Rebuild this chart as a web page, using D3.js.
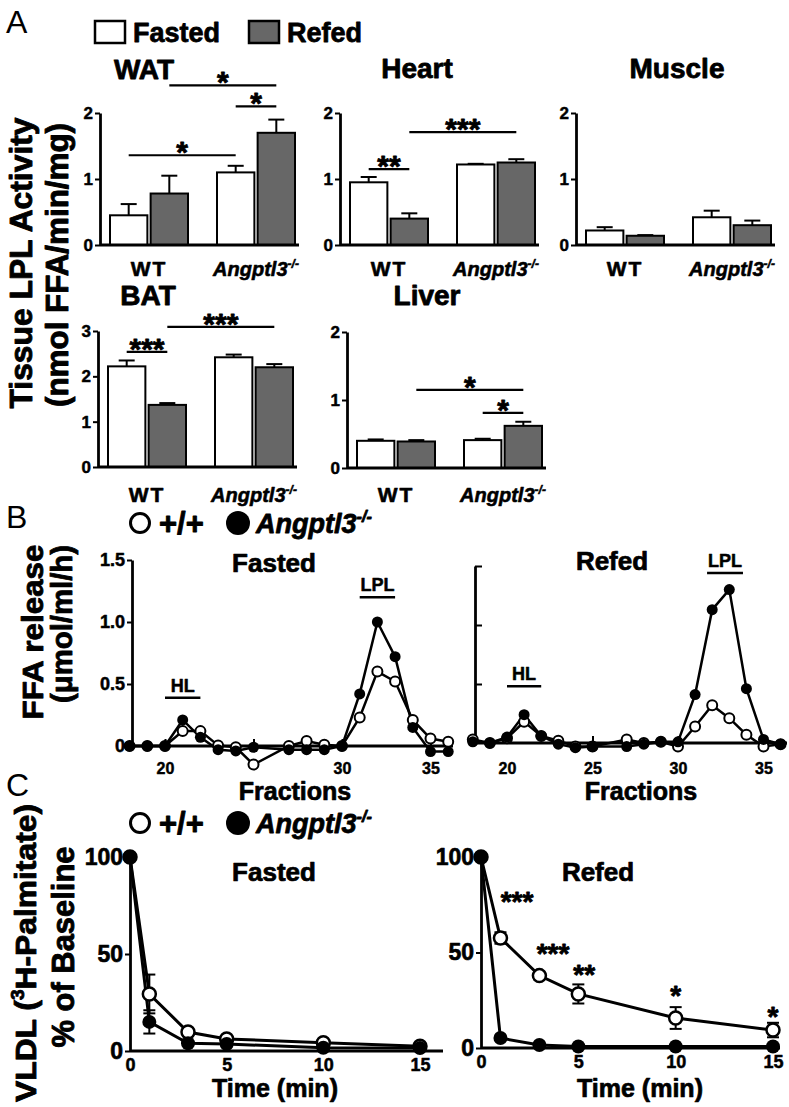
<!DOCTYPE html>
<html><head><meta charset="utf-8">
<script src="https://cdn.jsdelivr.net/npm/d3@7"></script>
<style>body{margin:0;background:#fff} svg{display:block}</style>
</head><body>
<svg id="fig" width="789" height="1107"></svg>
<script>
// ---------------- DATA ----------------
// Panel A: tissue LPL activity (order: WT-Fasted, WT-Refed, KO-Fasted, KO-Refed)
const genotypes = ["WT", "Angptl3"];
const conditions = ["Fasted", "Refed"];
const watMean = [0.45, 0.78, 1.10, 1.70];
const watErr = [0.17, 0.27, 0.10, 0.20];
const heartMean = [0.95, 0.40, 1.22, 1.25];
const heartErr = [0.08, 0.08, 0.01, 0.05];
const muscleMean = [0.22, 0.14, 0.42, 0.30];
const muscleErr = [0.05, 0.01, 0.10, 0.07];
const batMean = [2.22, 1.37, 2.42, 2.20];
const batErr = [0.13, 0.04, 0.06, 0.07];
const liverMean = [0.40, 0.39, 0.41, 0.62];
const liverErr = [0.02, 0.02, 0.02, 0.06];
// significance brackets: [barFrom, barTo, level, label]
const watSig = [[0, 2, 1.36, "*"], [2, 3, 2.10, "*"], [1, 3, 2.42, "*"]];
const heartSig = [[0, 1, 1.15, "**"], [1, 3, 1.71, "***"]];
const muscleSig = [];
const batSig = [[0, 1, 2.54, "***"], [1, 3, 3.09, "***"]];
const liverSig = [[1, 3, 1.15, "*"], [2, 3, 0.81, "*"]];

// Panel B: FFA release by fraction
const fractions = [18, 19, 20, 21, 22, 23, 24, 25, 27, 28, 29, 30, 31, 32, 33, 34, 35, 36];
const fastedWT = [0, 0, 0, 0.12, 0.12, 0.005, -0.01, -0.15, 0, 0.04, 0.01, 0, 0.23, 0.60, 0.52, 0.21, 0.06, 0.035];
const fastedKO = [0, 0, 0, 0.21, 0.07, -0.03, -0.04, -0.01, -0.03, -0.03, -0.03, 0, 0.42, 1.00, 0.72, 0.15, -0.045, -0.045];
const refedWT = [0.03, 0, 0.04, 0.18, 0.06, 0.02, -0.03, -0.03, 0.03, 0, 0.01, -0.03, 0.14, 0.32, 0.21, 0.07, -0.03, -0.01];
const refedKO = [0.01, 0, 0.05, 0.24, 0.06, -0.01, -0.04, -0.03, -0.03, -0.01, 0.01, 0.01, 0.41, 1.13, 1.30, 0.46, 0.03, -0.01];
const ffaTicks = [0, 0.5, 1.0, 1.5];
const fastedHL = [20, 22], fastedLPL = [31, 33];
const refedHL = [20, 22], refedLPL = [31.7, 33.8];

// Panel C: VLDL 3H-palmitate clearance
const times = [0, 1, 3, 5, 10, 15];
const cFastedWT = [100, 29.4, 9.8, 6.2, 4.3, 2.5];
const cFastedWTErr = [0, 10, 2, 1, 1, 1];
const cFastedKO = [100, 15, 4, 3.6, 1.7, 1.5];
const cFastedKOErr = [0, 6, 1, 0.8, 0.5, 0.5];
const cRefedWT = [100, 57.6, 37.9, 28.3, 15.7, 9.4];
const cRefedWTErr = [0, 3, 2, 5, 5.7, 3.8];
const cRefedKO = [100, 5.2, 1.6, 0.8, 0.8, 0.8];
const cRefedKOErr = [0, 0.5, 0.3, 0.2, 0.2, 0.2];
const refedStars = ["***", "***", "**", "*", "*"];
const refedStarTime = [1.85, 3.7, 5.3, 10, 15];
const refedStarLevel = [80, 53, 42, 31, 20];
const timeTicks = [0, 5, 10, 15];
const pctTicks = [0, 50, 100];

// ---------------- DRAWING ----------------
const FONT = "'Liberation Sans', Arial, Helvetica, sans-serif";
const GRAY = "#676767";
const svg = d3.select("#fig");

function heavy(t, size) {
  return t.attr("stroke", "#000").attr("stroke-width", Math.max(0.3, size * 0.028)).attr("stroke-linejoin", "round");
}
function txt(x, y, s, size, o = {}) {
  const t = svg.append("text").attr("x", x).attr("y", y)
    .attr("font-family", FONT).attr("font-size", size)
    .attr("font-weight", o.weight || "bold")
    .attr("text-anchor", o.anchor || "middle").attr("fill", "#000").text(s);
  if (o.italic) t.attr("font-style", "italic");
  if (o.ls) t.attr("letter-spacing", o.ls);
  if (!o.weight) heavy(t, size);
  return t;
}
function angLabel(x, y, size, anchor) {
  const t = svg.append("text").attr("x", x).attr("y", y)
    .attr("font-family", FONT).attr("font-size", size).attr("font-weight", "bold")
    .attr("font-style", "italic").attr("text-anchor", anchor);
  heavy(t, size);
  t.append("tspan").text("Angptl3");
  t.append("tspan").attr("font-size", size * 0.6).attr("dy", -size * 0.42).text("-/-");
  return t;
}
function vtext(x, y, parts, size, len) {
  const t = svg.append("text").attr("transform", `translate(${x},${y}) rotate(-90)`)
    .attr("font-family", FONT).attr("font-size", size).attr("font-weight", "bold")
    .attr("text-anchor", "middle");
  heavy(t, size);
  parts.forEach(p => {
    const s = t.append("tspan").text(p.t);
    if (p.sup) s.attr("font-size", size * 0.6).attr("dy", -size * 0.4);
    if (p.back) s.attr("dy", size * 0.4);
  });
  if (len) t.attr("textLength", len).attr("lengthAdjust", "spacingAndGlyphs");
  return t;
}
function styleAxis(a, size) {
  const t = a.selectAll("text").attr("font-family", FONT).attr("font-size", size).attr("font-weight", "bold").attr("fill", "#000");
  heavy(t, size);
  a.selectAll(".tick line").attr("stroke", "#000").attr("stroke-width", 2);
  a.select(".domain").attr("stroke", "#000").attr("stroke-width", 2.8);
}

// Panel letters
txt(6, 33, "A", 32, {weight: "normal", anchor: "start"});
txt(6, 528, "B", 32, {weight: "normal", anchor: "start"});
txt(6, 796, "C", 32, {weight: "normal", anchor: "start"});

// Legend A
svg.append("rect").attr("x", 95).attr("y", 21).attr("width", 30).attr("height", 22).attr("fill", "#fff").attr("stroke", "#000").attr("stroke-width", 2.5);
txt(133, 42, "Fasted", 27, {anchor: "start"});
svg.append("rect").attr("x", 249).attr("y", 21).attr("width", 30).attr("height", 22).attr("fill", GRAY).attr("stroke", "#000").attr("stroke-width", 2.5);
txt(287, 42, "Refed", 27, {anchor: "start"});

// Y titles
vtext(32, 263, [{t: "Tissue LPL Activity"}], 31, 291);
vtext(68, 265, [{t: "(nmol FFA/min/mg)"}], 31, 284);

function barChart(cfg) {
  const g = svg.append("g");
  const y = d3.scaleLinear().domain([0, cfg.ymax]).range([cfg.y0, cfg.ytop]);
  const gx = d3.scalePoint().domain(genotypes).range([cfg.x0 + 49, cfg.x0 + 156]);
  const cx = d3.scaleBand().domain(conditions).range([-39, 39]).paddingInner(0.08);
  const bars = cfg.mean.map((m, i) => ({g: genotypes[Math.floor(i / 2)], c: conditions[i % 2], m, e: cfg.err[i]}));
  const bx = d => gx(d.g) + cx(d.c);
  const bc = i => bx(bars[i]) + cx.bandwidth() / 2;
  g.selectAll("line.err").data(bars).join("line")
    .attr("x1", d => bx(d) + cx.bandwidth() / 2).attr("x2", d => bx(d) + cx.bandwidth() / 2)
    .attr("y1", d => y(d.m)).attr("y2", d => y(d.m + d.e)).attr("stroke", "#000").attr("stroke-width", 2);
  g.selectAll("line.cap").data(bars).join("line")
    .attr("x1", d => bx(d) + cx.bandwidth() / 2 - 8).attr("x2", d => bx(d) + cx.bandwidth() / 2 + 8)
    .attr("y1", d => y(d.m + d.e)).attr("y2", d => y(d.m + d.e)).attr("stroke", "#000").attr("stroke-width", 2);
  g.selectAll("rect.bar").data(bars).join("rect")
    .attr("x", bx).attr("y", d => y(d.m)).attr("width", cx.bandwidth())
    .attr("height", d => y(0) - y(d.m))
    .attr("fill", d => d.c === "Fasted" ? "#fff" : GRAY).attr("stroke", "#000").attr("stroke-width", 2);
  const ax = g.append("g").attr("transform", `translate(${cfg.x0},0)`)
    .call(d3.axisLeft(y).tickValues(d3.range(0, cfg.ymax + 1)).tickFormat(d3.format("d")).tickSize(5).tickSizeOuter(0).tickPadding(2));
  styleAxis(ax, 17);
  g.append("line").attr("x1", cfg.x0).attr("x2", cfg.x0 + 199).attr("y1", y(0)).attr("y2", y(0))
    .attr("stroke", "#000").attr("stroke-width", 2.8);
  cfg.sig.forEach(s => {
    g.append("line").attr("x1", bc(s[0])).attr("x2", bc(s[1])).attr("y1", y(s[2])).attr("y2", y(s[2]))
      .attr("stroke", "#000").attr("stroke-width", 2.2);
    txt((bc(s[0]) + bc(s[1])) / 2, y(s[2]) + 7, s[3], 30);
  });
  txt(cfg.tx, cfg.ty, cfg.title, 28);
  txt(gx("WT"), cfg.ly, "WT", 21, {ls: 2});
  angLabel(gx("Angptl3"), cfg.ly, 20, "middle");
}

barChart({title: "WAT", tx: 144, ty: 79, x0: 100, y0: 245, ytop: 113, ymax: 2, mean: watMean, err: watErr, sig: watSig, ly: 276});
barChart({title: "Heart", tx: 417, ty: 78, x0: 340, y0: 245, ytop: 113, ymax: 2, mean: heartMean, err: heartErr, sig: heartSig, ly: 276});
barChart({title: "Muscle", tx: 677, ty: 78, x0: 576, y0: 245, ytop: 113, ymax: 2, mean: muscleMean, err: muscleErr, sig: muscleSig, ly: 276});
barChart({title: "BAT", tx: 148, ty: 305, x0: 98, y0: 467, ytop: 331, ymax: 3, mean: batMean, err: batErr, sig: batSig, ly: 502});
barChart({title: "Liver", tx: 427, ty: 305, x0: 347, y0: 468, ytop: 332, ymax: 2, mean: liverMean, err: liverErr, sig: liverSig, ly: 502});

// Legends for B and C
function legend(yc) {
  svg.append("circle").attr("cx", 140).attr("cy", yc).attr("r", 9.5).attr("fill", "#fff").attr("stroke", "#000").attr("stroke-width", 3);
  txt(159, yc + 11, "+/+", 31, {anchor: "start"});
  svg.append("circle").attr("cx", 238).attr("cy", yc).attr("r", 12).attr("fill", "#000");
  angLabel(256, yc + 10, 27, "start");
}
legend(523);
legend(823);

// Panel B
vtext(43, 632, [{t: "FFA release"}], 30, 175);
vtext(72, 624, [{t: "(μmol/ml/h)"}], 30, 158);

function fracPanel(cfg) {
  const x = d3.scaleLinear().domain([20, 30]).range(cfg.xr);
  const y = d3.scaleLinear().domain([0, 1.5]).range(cfg.yr);
  const g = svg.append("g");
  let yAx;
  if (cfg.showY) {
    yAx = d3.axisLeft(y).tickValues(ffaTicks).tickFormat(d => d === 0 ? "0" : d3.format(".1f")(d)).tickSize(5).tickPadding(2);
  } else {
    yAx = d3.axisRight(y).tickValues(ffaTicks.slice(1)).tickFormat(() => "").tickSize(7);
  }
  yAx.tickSizeOuter(0);
  const ya = g.append("g").attr("transform", `translate(${cfg.axisX},0)`).call(yAx);
  styleAxis(ya, 18);
  const xa = g.append("g").attr("transform", `translate(0,${y(0)})`)
    .call(d3.axisBottom(x).tickValues([20, 25, 30, 35]).tickFormat(d => cfg.xLabels.includes(d) ? d : "").tickSize(-7).tickPadding(cfg.pad));
  styleAxis(xa, 16);
  xa.select(".domain").remove();
  g.append("line").attr("x1", cfg.axisX).attr("x2", cfg.xEnd).attr("y1", y(0)).attr("y2", y(0)).attr("stroke", "#000").attr("stroke-width", 2.8);
  const line = d3.line().x(d => x(d[0])).y(d => y(d[1]));
  [cfg.wt, cfg.ko].forEach(s => {
    g.append("path").attr("d", line(fractions.map((f, i) => [f, s[i]]))).attr("fill", "none").attr("stroke", "#000").attr("stroke-width", 2.5);
  });
  g.selectAll("circle.wt").data(fractions).join("circle").attr("cx", d => x(d)).attr("cy", (d, i) => y(cfg.wt[i]))
    .attr("r", 5).attr("fill", "#fff").attr("stroke", "#000").attr("stroke-width", 2);
  g.selectAll("circle.ko").data(fractions).join("circle").attr("cx", d => x(d)).attr("cy", (d, i) => y(cfg.ko[i]))
    .attr("r", 5.5).attr("fill", "#000");
  [[cfg.hl, cfg.hlY, "HL"], [cfg.lpl, cfg.lplY, "LPL"]].forEach(a => {
    g.append("line").attr("x1", x(a[0][0])).attr("x2", x(a[0][1])).attr("y1", y(a[1])).attr("y2", y(a[1])).attr("stroke", "#000").attr("stroke-width", 2.5);
    txt((x(a[0][0]) + x(a[0][1])) / 2, y(a[1]) - 6, a[2], 18);
  });
  txt(cfg.tx, cfg.ty, cfg.title, 26);
  txt(cfg.fx, 800, "Fractions", 25);
}
fracPanel({title: "Fasted", tx: 274, ty: 572, xr: [165, 342], yr: [746, 560], axisX: 132, xEnd: 453, showY: true,
  xLabels: [20, 30, 35], pad: 17, wt: fastedWT, ko: fastedKO, hl: fastedHL, hlY: 0.39, lpl: fastedLPL, lplY: 1.20, fx: 295});
fracPanel({title: "Refed", tx: 612, ty: 570, xr: [507, 678], yr: [743, 566], axisX: 475, xEnd: 787, showY: false,
  xLabels: [20, 25, 30, 35], pad: 20, wt: refedWT, ko: refedKO, hl: refedHL, hlY: 0.48, lpl: refedLPL, lplY: 1.44, fx: 641});

// Panel C
vtext(36, 953, [{t: "VLDL ("}, {t: "3", sup: true}, {t: "H-Palmitate)", back: true}], 30, 298);
vtext(74, 947, [{t: "% of Baseline"}], 31, 201);

function timePanel(cfg) {
  const x = d3.scaleLinear().domain([0, 15]).range(cfg.xr);
  const y = d3.scaleLinear().domain([0, 100]).range(cfg.yr);
  const g = svg.append("g");
  const ya = g.append("g").attr("transform", `translate(${cfg.axisX},0)`)
    .call(d3.axisLeft(y).tickValues(pctTicks).tickFormat(d3.format("d")).tickSize(5).tickSizeOuter(0).tickPadding(2));
  styleAxis(ya, 23);
  const xa = g.append("g").attr("transform", `translate(0,${y(0)})`)
    .call(d3.axisBottom(x).tickValues(timeTicks).tickFormat(d3.format("d")).tickSize(0).tickPadding(7));
  styleAxis(xa, 18);
  xa.select(".domain").remove();
  g.append("line").attr("x1", cfg.axisX).attr("x2", cfg.xEnd).attr("y1", y(0)).attr("y2", y(0)).attr("stroke", "#000").attr("stroke-width", 2.8);
  const line = d3.line().x(d => x(d[0])).y(d => y(d[1]));
  [[cfg.wt, cfg.wtErr], [cfg.ko, cfg.koErr]].forEach(([s, e]) => {
    g.append("path").attr("d", line(times.map((t, i) => [t, s[i]]))).attr("fill", "none").attr("stroke", "#000").attr("stroke-width", 3);
    times.forEach((t, i) => {
      if (!e[i]) return;
      const cxp = x(t);
      g.append("line").attr("x1", cxp).attr("x2", cxp).attr("y1", y(s[i] - e[i])).attr("y2", y(s[i] + e[i])).attr("stroke", "#000").attr("stroke-width", 2);
      [s[i] - e[i], s[i] + e[i]].forEach(v => g.append("line").attr("x1", cxp - 6).attr("x2", cxp + 6).attr("y1", y(v)).attr("y2", y(v)).attr("stroke", "#000").attr("stroke-width", 2));
    });
  });
  g.selectAll("circle.wt").data(times).join("circle").attr("cx", d => x(d)).attr("cy", (d, i) => y(cfg.wt[i]))
    .attr("r", 6.5).attr("fill", "#fff").attr("stroke", "#000").attr("stroke-width", 2.5);
  g.selectAll("circle.ko").data(times).join("circle").attr("cx", d => x(d)).attr("cy", (d, i) => y(cfg.ko[i]))
    .attr("r", 7).attr("fill", "#000");
  if (cfg.stars) cfg.stars.forEach((s, i) => txt(x(refedStarTime[i]), y(refedStarLevel[i]) + 16, s, 28));
  txt(cfg.tx, 881, cfg.title, 26);
  txt(cfg.lx, 1097, "Time (min)", 25);
}
timePanel({title: "Fasted", tx: 274, xr: [130, 420], yr: [1051, 857], axisX: 130, xEnd: 443,
  wt: cFastedWT, wtErr: cFastedWTErr, ko: cFastedKO, koErr: cFastedKOErr, lx: 275});
timePanel({title: "Refed", tx: 598, xr: [481, 773], yr: [1048, 857], axisX: 481, xEnd: 780,
  wt: cRefedWT, wtErr: cRefedWTErr, ko: cRefedKO, koErr: cRefedKOErr, lx: 640, stars: refedStars});
</script>
</body></html>
